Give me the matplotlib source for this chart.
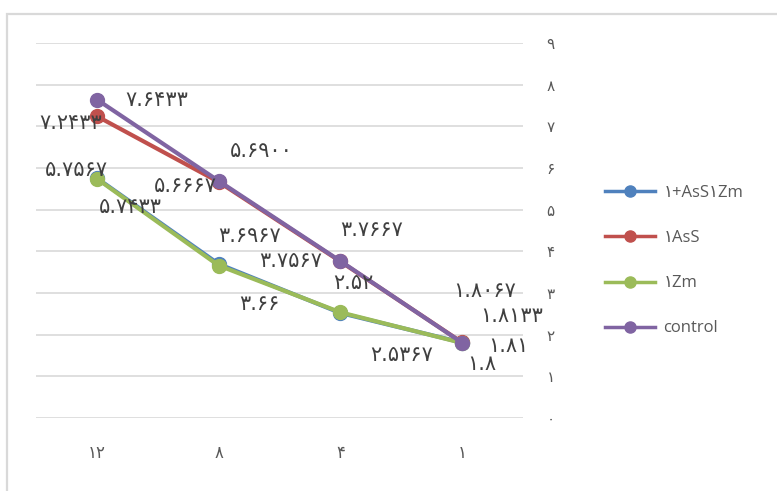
import matplotlib
matplotlib.use("Agg")
import matplotlib.pyplot as plt
from matplotlib.patches import Rectangle
from matplotlib.lines import Line2D

# Time points (x categories) and measured values per treatment
categories = ["12", "8", "4", "1"]
combo_vals = ["5.7567", "3.6967", "2.52", "1.81"]      # 1+AsS1Zm
ass_vals = ["7.2433", "5.6667", "3.7567", "1.8133"]    # 1AsS
zm_vals = ["5.7433", "3.66", "2.5367", "1.8"]          # 1Zm
control_vals = ["7.6433", "5.6900", "3.7667", "1.8067"]
series_names = ["1+AsS1Zm", "1AsS", "1Zm", "control"]
y_ticks = list(range(10))

PERSIAN = str.maketrans("0123456789", "۰۱۲۳۴۵۶۷۸۹")


def fa(s):
    return str(s).translate(PERSIAN)


colors = ["#4F81BD", "#C0504D", "#9BBB59", "#8064A2"]
# data-label offsets in pixels (dx, dy) for each series / point
label_offsets = [
    [(-20, 8), (31, 28), (13, 30), (46, -3)],
    [(-26, -7), (-33, -4), (-50, 0), (50, 26)],
    [(34, -28), (41, -38), (61, -43), (20, -21)],
    [(60, 0), (43, 30), (31, 31), (23, 52)],
]

W, H = 777, 491
fig = plt.figure(figsize=(W / 100, H / 100), dpi=100)
fig.patch.set_facecolor("white")

# outer chart frame
fig.add_artist(Rectangle((7 / W, -0.05), 1.2, 1 - 14 / H + 0.05,
                         transform=fig.transFigure, fill=False,
                         edgecolor="#d9d9d9", linewidth=1.6))

left, right, top, bottom = 36, 523, 43, 418
ax = fig.add_axes([left / W, 1 - bottom / H, (right - left) / W, (bottom - top) / H])

xs = list(range(len(categories)))
all_series = [combo_vals, ass_vals, zm_vals, control_vals]
font_list = ["DejaVu Sans"]

for vals, name, col, offs in zip(all_series, series_names, colors, label_offsets):
    ys = [float(v) for v in vals]
    ax.plot(xs, ys, color=col, linewidth=3, marker="o", markersize=10,
            markeredgecolor=col, markerfacecolor=col, label=fa(name), zorder=3,
            solid_capstyle="round")
    for x, y, v, (dx, dy) in zip(xs, ys, vals, offs):
        ax.annotate(fa(v), (x, y), xytext=(dx, dy), textcoords="offset pixels",
                    ha="center", va="center", fontsize=15, color="#404040",
                    family=font_list, zorder=5)

ax.set_xlim(-0.5, len(categories) - 0.5)
ax.set_ylim(0, 9)
ax.set_xticks(xs)
ax.set_xticklabels([fa(c) for c in categories], family=font_list,
                   fontsize=12, color="#595959")
ax.set_yticks(y_ticks)
ax.set_yticklabels([fa(t) for t in y_ticks], family=font_list,
                   fontsize=11, color="#595959")
ax.yaxis.tick_right()
ax.tick_params(axis="y", length=0, pad=17)
ax.tick_params(axis="x", length=0, pad=19)
ax.grid(axis="y", color="#d9d9d9", linewidth=1.2)
ax.set_axisbelow(True)
for sp in ax.spines.values():
    sp.set_visible(False)

handles = [Line2D([0], [0], color=c, linewidth=2.5, marker="o", markersize=8)
           for c in colors]
leg = fig.legend(handles, [fa(n) for n in series_names],
                 loc="upper left", bbox_to_anchor=(590 / W, 1 - 170 / H),
                 frameon=False, handlelength=3.0, labelspacing=1.75,
                 handletextpad=0.5,
                 prop={"family": ["Open Sans", "DejaVu Sans"], "size": 12})
for t in leg.get_texts():
    t.set_color("#595959")

fig.savefig("out.png", dpi=100, facecolor="white")
